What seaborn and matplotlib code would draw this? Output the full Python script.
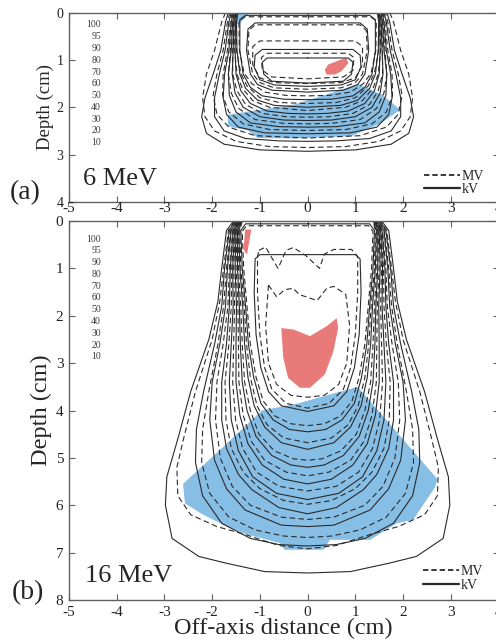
import matplotlib.pyplot as plt
import seaborn as sns
from matplotlib.lines import Line2D

# key of isodose levels (%) printed at top left of both panels
KEY_LEVELS = ['100', '95', '90', '80', '70', '60', '50', '40', '30', '20', '10']
X_TICKS = [-5, -4, -3, -2, -1, 0, 1, 2, 3, 4]

# isodose lines, right half only: (off-axis cm, depth cm), mirrored about x = 0
# (a) 6 MeV, levels 10, 20, ..., 80, 90, 95, 100
A_KV = [
    [(1.66, 0), (1.72, 0.2), (1.82, 0.8), (1.98, 1.3), (2.15, 1.8), (2.22, 2.2), (2.12, 2.55), (1.75, 2.78), (1.0, 2.9), (0, 2.93)],
    [(1.60, 0), (1.65, 0.2), (1.73, 0.8), (1.85, 1.3), (1.95, 1.8), (1.95, 2.2), (1.75, 2.5), (1.3, 2.66), (0.6, 2.71), (0, 2.72)],
    [(1.56, 0), (1.60, 0.2), (1.65, 0.8), (1.74, 1.3), (1.77, 1.8), (1.70, 2.15), (1.45, 2.42), (0.9, 2.54), (0, 2.56)],
    [(1.53, 0), (1.57, 0.2), (1.60, 0.8), (1.66, 1.3), (1.64, 1.75), (1.50, 2.1), (1.2, 2.33), (0.6, 2.41), (0, 2.42)],
    [(1.50, 0), (1.54, 0.2), (1.56, 0.8), (1.58, 1.3), (1.52, 1.7), (1.35, 2.0), (1.0, 2.2), (0.5, 2.27), (0, 2.28)],
    [(1.48, 0), (1.51, 0.2), (1.52, 0.8), (1.50, 1.3), (1.40, 1.65), (1.2, 1.92), (0.85, 2.08), (0.4, 2.13), (0, 2.14)],
    [(1.46, 0), (1.49, 0.2), (1.48, 0.8), (1.42, 1.3), (1.30, 1.6), (1.05, 1.85), (0.7, 1.96), (0, 2.0)],
    [(0, 0.06), (1.30, 0.06), (1.42, 0.15), (1.42, 0.8), (1.35, 1.3), (1.2, 1.58), (0.95, 1.76), (0.5, 1.83), (0, 1.84)],
    [(0, 0.22), (1.10, 0.22), (1.25, 0.35), (1.28, 0.8), (1.20, 1.3), (1.05, 1.52), (0.75, 1.64), (0, 1.68)],
    [(0, 0.78), (0.95, 0.78), (1.10, 0.9), (1.12, 1.15), (1.0, 1.42), (0.7, 1.53), (0, 1.56)],
    [(0, 0.96), (0.85, 0.96), (0.95, 1.05), (0.92, 1.3), (0.75, 1.45), (0, 1.49)],
]
A_MV = [
    [(1.72, 0), (1.80, 0.2), (1.95, 0.8), (2.12, 1.3), (2.20, 1.8), (2.15, 2.2), (1.95, 2.5), (1.5, 2.72), (0.8, 2.83), (0, 2.85)],
    [(1.63, 0), (1.68, 0.2), (1.77, 0.8), (1.90, 1.3), (1.98, 1.75), (1.90, 2.15), (1.65, 2.42), (1.1, 2.6), (0, 2.65)],
    [(1.58, 0), (1.62, 0.2), (1.68, 0.8), (1.77, 1.3), (1.78, 1.75), (1.65, 2.1), (1.35, 2.35), (0.8, 2.47), (0, 2.49)],
    [(1.54, 0), (1.58, 0.2), (1.62, 0.8), (1.66, 1.3), (1.60, 1.7), (1.45, 2.02), (1.1, 2.26), (0.5, 2.34), (0, 2.35)],
    [(1.51, 0), (1.55, 0.2), (1.57, 0.8), (1.57, 1.3), (1.48, 1.65), (1.3, 1.94), (0.95, 2.13), (0.45, 2.2), (0, 2.21)],
    [(1.49, 0), (1.52, 0.2), (1.53, 0.8), (1.48, 1.3), (1.37, 1.6), (1.15, 1.86), (0.8, 2.0), (0, 2.07)],
    [(1.47, 0), (1.50, 0.2), (1.49, 0.8), (1.40, 1.28), (1.27, 1.55), (1.0, 1.8), (0.6, 1.9), (0, 1.92)],
    [(0, 0.09), (1.32, 0.09), (1.44, 0.18), (1.43, 0.8), (1.33, 1.28), (1.17, 1.5), (0.9, 1.68), (0.45, 1.75), (0, 1.76)],
    [(0, 0.26), (1.10, 0.26), (1.23, 0.38), (1.25, 0.8), (1.15, 1.3), (1.0, 1.48), (0.7, 1.59), (0, 1.62)],
    [(0, 0.60), (1.00, 0.60), (1.15, 0.72), (1.15, 1.1), (1.0, 1.38), (0.7, 1.48), (0, 1.5)],
    [(0, 0.86), (0.85, 0.86), (0.97, 0.95), (0.95, 1.22), (0.75, 1.36), (0, 1.4)],
]

# (b) 16 MeV, kV levels 10 .. 90, 95 ; MV levels 10 .. 90 (MV 95/100 are ragged, given whole)
B_KV = [
    [(1.55, 0), (1.70, 0.2), (1.80, 1.0), (1.88, 1.7), (2.07, 2.5), (2.45, 3.6), (2.72, 4.6), (2.95, 5.4), (2.98, 6.0), (2.84, 6.7), (2.28, 7.08), (1.72, 7.22), (0.9, 7.4), (0, 7.43)],
    [(1.52, 0), (1.64, 0.2), (1.74, 1.0), (1.80, 1.8), (1.95, 2.6), (2.18, 3.6), (2.33, 4.4), (2.35, 5.1), (2.2, 5.8), (1.8, 6.38), (1.2, 6.7), (0.6, 6.83), (0, 6.86)],
    [(1.49, 0), (1.60, 0.2), (1.68, 1.0), (1.72, 1.8), (1.84, 2.6), (2.00, 3.4), (2.05, 4.2), (1.95, 5.05), (1.7, 5.65), (1.31, 6.1), (0.55, 6.42), (0, 6.45)],
    [(1.46, 0), (1.56, 0.2), (1.62, 1.0), (1.64, 1.8), (1.70, 2.6), (1.80, 3.4), (1.80, 4.2), (1.70, 4.8), (1.45, 5.35), (1.17, 5.67), (0.6, 6.05), (0, 6.18)],
    [(1.44, 0), (1.53, 0.2), (1.57, 1.0), (1.56, 1.8), (1.60, 2.6), (1.64, 3.4), (1.60, 4.2), (1.45, 4.85), (1.15, 5.4), (0.65, 5.75), (0, 5.88)],
    [(1.42, 0), (1.50, 0.2), (1.52, 1.0), (1.49, 1.8), (1.50, 2.6), (1.50, 3.4), (1.42, 4.1), (1.25, 4.7), (0.95, 5.15), (0.5, 5.45), (0, 5.55)],
    [(1.40, 0), (1.47, 0.2), (1.47, 1.0), (1.43, 1.8), (1.41, 2.6), (1.37, 3.4), (1.27, 4.0), (1.08, 4.55), (0.75, 4.95), (0.35, 5.15), (0, 5.2)],
    [(1.38, 0), (1.44, 0.2), (1.42, 1.0), (1.36, 1.8), (1.32, 2.6), (1.25, 3.3), (1.12, 3.9), (0.9, 4.35), (0.55, 4.68), (0, 4.82)],
    [(0, 0.06), (1.30, 0.06), (1.40, 0.2), (1.37, 1.0), (1.30, 1.8), (1.24, 2.6), (1.13, 3.3), (0.98, 3.85), (0.72, 4.2), (0.38, 4.4), (0, 4.45)],
    [(0, 0.71), (1.00, 0.71), (1.10, 0.8), (1.12, 1.5), (1.08, 2.4), (0.98, 3.1), (0.82, 3.6), (0.55, 3.9), (0, 4.02)],
]
B_MV = [
    [(1.53, 0), (1.66, 0.2), (1.76, 1.0), (1.84, 1.7), (2.00, 2.5), (2.35, 3.6), (2.60, 4.6), (2.74, 5.2), (2.72, 5.8), (2.45, 6.2), (1.9, 6.45), (1.3, 6.62), (0.6, 6.85), (0, 6.92)],
    [(1.50, 0), (1.61, 0.2), (1.70, 1.0), (1.76, 1.8), (1.88, 2.6), (2.07, 3.6), (2.20, 4.4), (2.22, 5.1), (2.05, 5.75), (1.65, 6.25), (1.1, 6.52), (0.5, 6.65), (0, 6.68)],
    [(1.47, 0), (1.57, 0.2), (1.64, 1.0), (1.67, 1.8), (1.77, 2.6), (1.90, 3.4), (1.93, 4.2), (1.83, 5.0), (1.58, 5.6), (1.2, 6.0), (0.55, 6.25), (0, 6.3)],
    [(1.45, 0), (1.54, 0.2), (1.59, 1.0), (1.60, 1.8), (1.65, 2.6), (1.73, 3.4), (1.71, 4.2), (1.60, 4.8), (1.35, 5.3), (1.0, 5.65), (0.5, 5.9), (0, 5.98)],
    [(1.43, 0), (1.51, 0.2), (1.55, 1.0), (1.53, 1.8), (1.55, 2.6), (1.57, 3.4), (1.51, 4.2), (1.36, 4.8), (1.07, 5.3), (0.6, 5.6), (0, 5.7)],
    [(1.41, 0), (1.48, 0.2), (1.50, 1.0), (1.46, 1.8), (1.45, 2.6), (1.44, 3.4), (1.35, 4.1), (1.18, 4.65), (0.9, 5.05), (0.45, 5.3), (0, 5.38)],
    [(1.39, 0), (1.45, 0.2), (1.45, 1.0), (1.40, 1.8), (1.37, 2.6), (1.32, 3.4), (1.20, 4.0), (1.02, 4.5), (0.7, 4.85), (0.3, 5.02), (0, 5.05)],
    [(1.37, 0), (1.42, 0.2), (1.40, 1.0), (1.33, 1.8), (1.28, 2.6), (1.20, 3.3), (1.06, 3.9), (0.85, 4.3), (0.5, 4.58), (0, 4.68)],
    [(0, 0.10), (1.28, 0.10), (1.37, 0.22), (1.34, 1.0), (1.27, 1.8), (1.20, 2.6), (1.08, 3.3), (0.93, 3.8), (0.68, 4.12), (0.35, 4.28), (0, 4.32)],
]
B_MV95_X = [-1.02, -0.88, -0.62, -0.45, -0.30, -0.05, 0.25, 0.35, 0.55, 0.92, 1.05, 1.05, 1.00, 0.90, 0.75, 0.45, 0.0, -0.45, -0.75, -0.90, -1.00, -1.05, -1.05, -1.02]
B_MV95_Z = [0.62, 0.55, 1.00, 0.62, 0.56, 0.72, 1.00, 0.70, 0.60, 0.60, 0.75, 1.50, 2.40, 3.10, 3.55, 3.85, 3.95, 3.85, 3.55, 3.10, 2.40, 1.50, 0.75, 0.62]
B_MV100_X = [-0.82, -0.65, -0.48, -0.30, -0.18, 0.20, 0.40, 0.55, 0.80, 0.88, 0.82, 0.65, 0.35, 0.0, -0.35, -0.65, -0.82, -0.88, -0.82]
B_MV100_Z = [1.35, 1.60, 1.45, 1.42, 1.55, 1.68, 1.42, 1.38, 1.55, 2.20, 3.00, 3.45, 3.68, 3.72, 3.68, 3.45, 3.00, 2.20, 1.35]

# shaded regions
A_BLUE_X = [-1.67, -1.31, -0.27, 0.43, 1.06, 1.55, 1.94, 1.55, 0.92, -0.27, -1.04, -1.25, -1.67]
A_BLUE_Z = [2.16, 2.10, 1.94, 1.72, 1.51, 1.73, 2.05, 2.33, 2.61, 2.66, 2.65, 2.49, 2.40]
A_BLUE2_X = [-1.59, -1.20, -1.30, -1.46]
A_BLUE2_Z = [0.0, 0.0, 0.10, 0.26]
A_RED_X = [0.36, 0.43, 0.68, 0.82, 0.85, 0.71, 0.57, 0.40]
A_RED_Z = [1.21, 1.10, 1.00, 0.96, 1.07, 1.24, 1.31, 1.31]
B_BLUE_X = [-2.61, -1.75, -0.96, -0.20, 1.05, 2.72, 2.67, 2.21, 1.87, 1.31, 0.47, 0.33, -0.48, -0.58, -1.35, -1.77, -2.19, -2.57]
B_BLUE_Z = [5.55, 4.75, 4.00, 3.85, 3.50, 5.45, 5.62, 6.31, 6.38, 6.73, 6.73, 6.94, 6.94, 6.80, 6.59, 6.41, 6.20, 5.96]
B_RED_X = [-0.55, -0.30, 0.05, 0.40, 0.61, 0.64, 0.54, 0.36, 0.05, -0.16, -0.41, -0.51]
B_RED_Z = [2.26, 2.29, 2.43, 2.22, 2.05, 2.26, 2.75, 3.24, 3.52, 3.52, 3.31, 2.89]
B_RED2_X = [-1.31, -1.18, -1.27, -1.34]
B_RED2_Z = [0.18, 0.18, 0.71, 0.61]

LINE = '#2a2a2a'
BLUE = '#86bee6'
RED = '#e87a7a'
GREY = '#606060'

sns.set_theme(style='ticks')
plt.rcParams['font.family'] = ['Liberation Serif', 'DejaVu Serif']
plt.rcParams['axes.unicode_minus'] = False


def mirror(half):
    xs = [-x for x, _ in half] + [x for x, _ in half[-2::-1]]
    zs = [z for _, z in half] + [z for _, z in half[-2::-1]]
    return xs, zs


def draw_line(ax, xs, zs, dashed):
    sns.lineplot(x=xs, y=zs, sort=False, estimator=None, color=LINE,
                 lw=0.8, ax=ax, legend=False)
    if dashed:
        ax.lines[-1].set_dashes((5, 3))


def style_axes(ax, depth_max, fs):
    ax.set_xlim(-5, 4)
    ax.set_ylim(depth_max, 0)
    ax.set_xticks(X_TICKS)
    ax.set_yticks(range(depth_max + 1))
    ax.set_xlabel('')
    ax.set_ylabel('')
    ax.tick_params(direction='in', top=True, right=True, length=4, width=0.8,
                   color=GREY, labelcolor='#222222', labelsize=fs, pad=4)
    for s in ax.spines.values():
        s.set_color(GREY)
        s.set_linewidth(1.0)


fig = plt.figure(figsize=(4.96, 6.44), dpi=100)
ax_a = fig.add_axes([69 / 496, 1 - 202 / 644, 429.5 / 496, 189.5 / 644])
ax_b = fig.add_axes([69 / 496, 1 - 600 / 644, 429.5 / 496, 379 / 644])

# (a) 6 MeV
ax_a.fill(A_BLUE_X, A_BLUE_Z, color=BLUE, lw=0, zorder=1)
ax_a.fill(A_BLUE2_X, A_BLUE2_Z, color=BLUE, lw=0, zorder=1)
ax_a.fill(A_RED_X, A_RED_Z, color=RED, lw=0, zorder=1)
for half in A_KV:
    draw_line(ax_a, *mirror(half), dashed=False)
for half in A_MV:
    draw_line(ax_a, *mirror(half), dashed=True)

# (b) 16 MeV
ax_b.fill(B_BLUE_X, B_BLUE_Z, color=BLUE, lw=0, zorder=1)
ax_b.fill(B_RED_X, B_RED_Z, color=RED, lw=0, zorder=1)
ax_b.fill(B_RED2_X, B_RED2_Z, color=RED, lw=0, zorder=1)
for half in B_KV:
    draw_line(ax_b, *mirror(half), dashed=False)
for half in B_MV:
    draw_line(ax_b, *mirror(half), dashed=True)
draw_line(ax_b, B_MV95_X, B_MV95_Z, dashed=True)
draw_line(ax_b, B_MV100_X, B_MV100_Z, dashed=True)

style_axes(ax_a, 4, 10)
style_axes(ax_b, 8, 11)
ax_a.tick_params(labelbottom=False)
ax_b.tick_params(labeltop=True)

ax_a.set_ylabel('Depth (cm)', fontsize=13.5)
ax_a.yaxis.set_label_coords(-0.036, 0.5)
ax_b.set_ylabel('Depth (cm)', fontsize=17.5)
ax_b.yaxis.set_label_coords(-0.040, 0.5)
ax_b.set_xlabel('Off-axis distance (cm)', fontsize=17.5)
ax_b.xaxis.set_label_coords(0.5, -0.048)

for ax, z0 in [(ax_a, 0.26), (ax_b, 0.38)]:
    for i, lab in enumerate(KEY_LEVELS):
        ax.text(-4.33, z0 + i * 0.249, lab, ha='right', va='center',
                fontsize=7, color='#3a3a3a')

ax_a.text(-4.71, 3.64, '6 MeV', fontsize=19, ha='left', va='baseline')
ax_b.text(-4.67, 7.61, '16 MeV', fontsize=19, ha='left', va='baseline')
fig.text(10 / 496, 1 - 192.5 / 644, '(a)', fontsize=20, ha='left', va='center')
fig.text(12 / 496, 1 - 592.5 / 644, '(b)', fontsize=20, ha='left', va='center')

handles = [Line2D([], [], color=LINE, lw=1.3, dashes=(3, 1.6)),
           Line2D([], [], color=LINE, lw=1.6)]
for ax, anchor in [(ax_a, (0.966, 0.03)), (ax_b, (0.964, 0.022))]:
    ax.legend(handles, ['MV', 'kV'], loc='lower right', bbox_to_anchor=anchor,
              frameon=False, fontsize=10, handlelength=2.6, handletextpad=0.1,
              labelspacing=0.05, borderpad=0, borderaxespad=0)

fig.savefig('out.png', dpi=100)
